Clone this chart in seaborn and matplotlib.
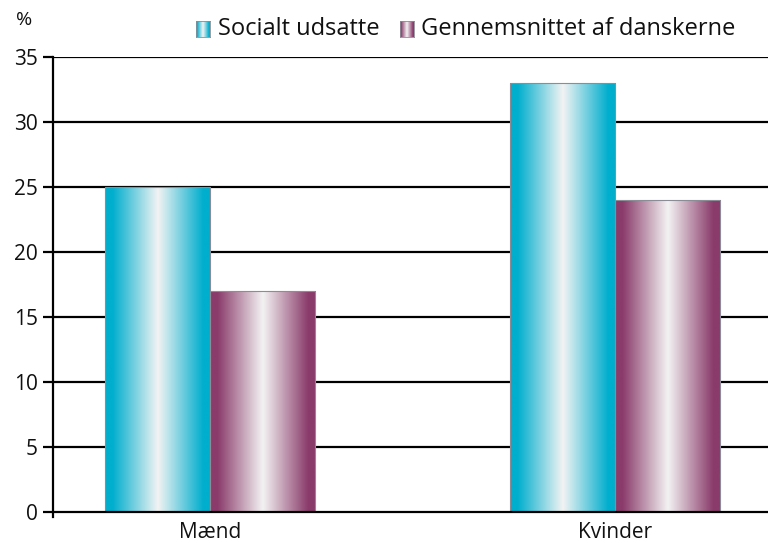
import matplotlib

matplotlib.use("Agg")
import matplotlib.pyplot as plt
import numpy as np
import pandas as pd
import seaborn as sns
from matplotlib.colors import LinearSegmentedColormap

categories = ["Mænd", "Kvinder"]
series = ["Socialt udsatte", "Gennemsnittet af danskerne"]
socialt_udsatte = [25, 33]
gennemsnit = [17, 24]
yticks = [0, 5, 10, 15, 20, 25, 30, 35]

edge_colors = {"Socialt udsatte": "#00aecd", "Gennemsnittet af danskerne": "#8a3b6b"}


def make_cmap(c):
    return LinearSegmentedColormap.from_list(
        "g", [(0.0, c), (0.07, c), (0.5, "#f3f3f3"), (0.93, c), (1.0, c)]
    )


df = pd.DataFrame({
    "kategori": categories * 2,
    "gruppe": [series[0]] * 2 + [series[1]] * 2,
    "pct": socialt_udsatte + gennemsnit,
})

sns.set_theme(style="white")
plt.rcParams["font.family"] = ["Open Sans", "DejaVu Sans"]

fig = plt.figure(figsize=(7.68, 5.43), dpi=100)
ax = fig.add_axes([53 / 768, 1 - 512 / 543, 715 / 768, 455 / 543])

sns.barplot(data=df, x="kategori", y="pct", hue="gruppe", hue_order=series,
            order=categories, width=0.52, ax=ax, legend=False,
            palette=edge_colors, saturation=1)

# gradient fill for each bar
grad = np.linspace(0, 1, 256).reshape(1, -1)
for patch, grp in zip(ax.patches, [series[0]] * 2 + [series[1]] * 2):
    x0, y0 = patch.get_x(), patch.get_y()
    w, h = patch.get_width(), patch.get_height()
    patch.set_facecolor("none")
    patch.set_edgecolor("#8c8c96")
    patch.set_linewidth(0.8)
    patch.set_zorder(4)
    ax.imshow(grad, cmap=make_cmap(edge_colors[grp]), aspect="auto",
              extent=[x0, x0 + w, y0, y0 + h], zorder=3, interpolation="bilinear")

ax.set_xlim(-0.388, 1.378)
ax.set_ylim(0, 35)
ax.set_yticks(yticks)
ax.set_xlabel("")
ax.set_ylabel("")
for y in yticks[1:]:
    ax.axhline(y, color="black", lw=1.6, zorder=1)
ax.axhline(0, color="black", lw=1.6, zorder=5, clip_on=False)

for s in ["top", "right", "bottom"]:
    ax.spines[s].set_visible(False)
ax.spines["left"].set_color("black")
ax.spines["left"].set_linewidth(1.6)
ax.spines["left"].set_bounds(-0.4, 35)

ax.tick_params(axis="y", left=True, length=7, width=1.6, color="black",
               labelsize=15, pad=4, labelcolor="#111111")
ax.tick_params(axis="x", bottom=False, labelsize=15, pad=1.5, labelcolor="#111111")

fig.text(24 / 768, 1 - 20 / 543, "%", fontsize=14, ha="center", va="center", color="#111111")

# legend built by hand with gradient swatches
legend_items = [(196, 218, series[0]), (400, 421, series[1])]
for sx, tx, name in legend_items:
    sax = fig.add_axes([sx / 768, 1 - 37 / 543, 14 / 768, 16 / 543])
    sax.imshow(grad, cmap=make_cmap(edge_colors[name]), aspect="auto", interpolation="bilinear")
    sax.set_xticks([])
    sax.set_yticks([])
    for sp in sax.spines.values():
        sp.set_color("#8c8c96")
        sp.set_linewidth(0.6)
    fig.text(tx / 768, 1 - 29 / 543, name, fontsize=17, ha="left", va="center", color="#111111")

fig.savefig("out.png", dpi=100)
